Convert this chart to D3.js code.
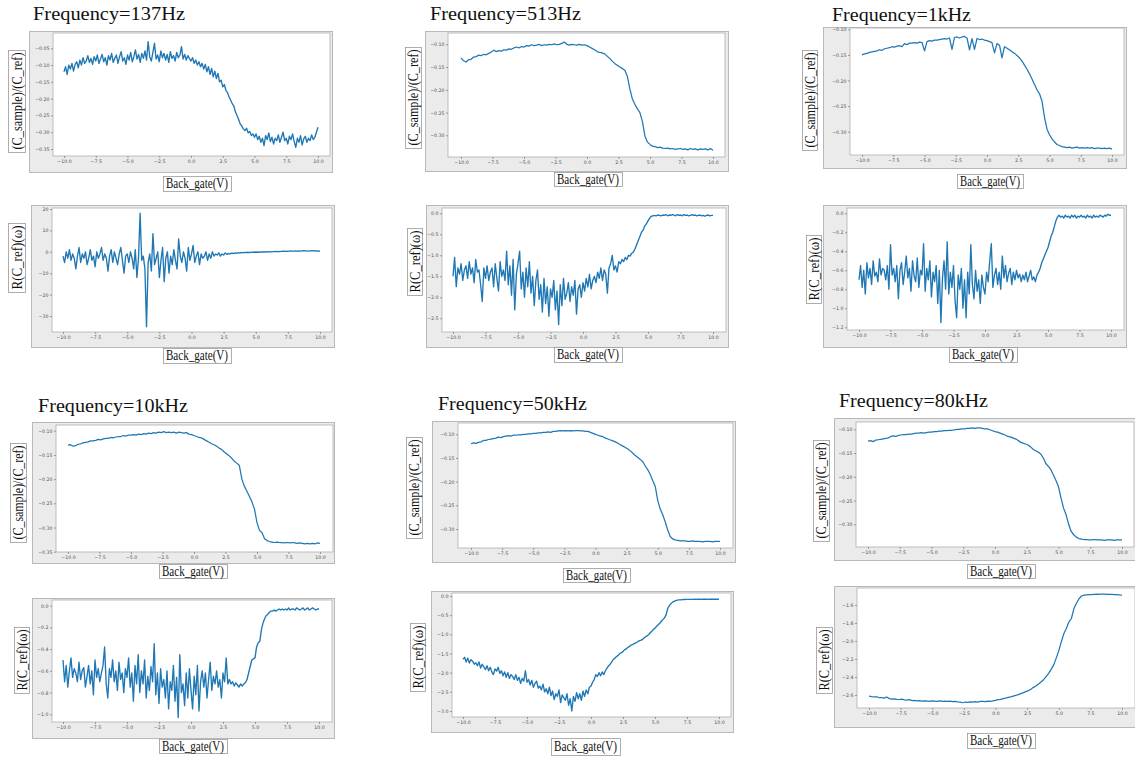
<!DOCTYPE html>
<html><head><meta charset="utf-8">
<script src="https://cdn.jsdelivr.net/npm/d3@7"></script>
<style>html,body{margin:0;padding:0;background:#fff;} svg{display:block;}</style>
</head><body>
<svg id="chart" width="1135" height="757"></svg>
<script>
// ---------------- DATA ----------------
const titles = ["Frequency=137Hz","Frequency=513Hz","Frequency=1kHz","Frequency=10kHz","Frequency=50kHz","Frequency=80kHz"];
const xLabel = "Back_gate(V)";
const yLabelC = "(C_sample)/(C_ref)";
const yLabelR = "R(C_ref)(\u03c9)";
const gateRange = [-10, 10];
const xTicks = [-10,-7.5,-5,-2.5,0,2.5,5,7.5,10];

const yTicksC137 = [-0.05,-0.10,-0.15,-0.20,-0.25,-0.30,-0.35];
const yTicksC10k = [-0.10,-0.15,-0.20,-0.25,-0.30,-0.35];
const yTicksC = [-0.10,-0.15,-0.20,-0.25,-0.30];
const yTicksR137 = [20,10,0,-10,-20,-30];
const yTicksR513 = [0,-0.5,-1.0,-1.5,-2.0,-2.5];
const yTicksR1k = [0,-0.2,-0.4,-0.6,-0.8,-1.0,-1.2];
const yTicksR10k = [0,-0.2,-0.4,-0.6,-0.8,-1.0];
const yTicksR50k = [0,-0.5,-1.0,-1.5,-2.0,-2.5,-3.0];
const yTicksR80k = [-1.6,-1.8,-2.0,-2.2,-2.4,-2.6];

const c137 = [-0.120,-0.105,-0.128,-0.100,-0.112,-0.095,-0.118,-0.098,
-0.090,-0.108,-0.085,-0.100,-0.078,-0.095,-0.088,-0.072,
-0.092,-0.080,-0.098,-0.075,-0.088,-0.070,-0.095,-0.082,
-0.068,-0.090,-0.078,-0.100,-0.072,-0.085,-0.065,-0.092,
-0.080,-0.070,-0.095,-0.075,-0.060,-0.088,-0.078,-0.098,
-0.070,-0.085,-0.062,-0.090,-0.075,-0.055,-0.082,-0.068,
-0.092,-0.065,-0.080,-0.058,-0.085,-0.030,-0.075,-0.088,
-0.062,-0.035,-0.082,-0.070,-0.090,-0.058,-0.078,-0.065,
-0.085,-0.068,-0.092,-0.060,-0.080,-0.072,-0.088,-0.062,
-0.078,-0.070,-0.045,-0.082,-0.068,-0.085,-0.072,-0.080,
-0.088,-0.078,-0.095,-0.085,-0.100,-0.090,-0.105,-0.095,
-0.112,-0.098,-0.120,-0.105,-0.128,-0.110,-0.135,-0.118,
-0.140,-0.125,-0.150,-0.145,-0.165,-0.158,-0.175,-0.182,
-0.195,-0.205,-0.215,-0.222,-0.240,-0.250,-0.262,-0.275,
-0.282,-0.290,-0.295,-0.288,-0.302,-0.298,-0.310,-0.305,
-0.315,-0.305,-0.322,-0.312,-0.330,-0.318,-0.340,-0.310,
-0.322,-0.302,-0.328,-0.315,-0.335,-0.318,-0.325,-0.308,
-0.330,-0.315,-0.300,-0.325,-0.318,-0.335,-0.312,-0.322,
-0.305,-0.328,-0.345,-0.318,-0.330,-0.310,-0.338,-0.320,
-0.312,-0.330,-0.318,-0.325,-0.308,-0.322,-0.315,-0.300,
-0.285];

const r137 = [-2,-5,0,-3,1,-4,-1,-3,
-8,-2,2,-5,-1,-3,0,-6,
-3,1,-4,-2,-7,0,-3,-1,
2,-4,-1,-3,-9,-2,1,-5,
0,-3,-6,-1,2,-4,-10,-2,
-1,-5,0,-3,-8,1,-12,-3,
18,-4,-2,-8,-35,-5,-1,-9,
8.5,-6,-3,0,-12,-4,2,-14,
-3,0,-10,-2,-6,1,-4,-8,
6,-2,-5,0,-3,-9,2,-4,
-1,3,-5,-2,0,-6,-1,-3,
-2,0,-4,-1,-3,0,-2,-1,
-1.5,-0.5,-2,-1,-1.5,-0.5,-1.2,-0.8,
-1,-0.6,-0.8,-0.5,-0.7,-0.4,-0.6,-0.3,
-0.5,-0.3,-0.4,-0.2,-0.4,-0.2,-0.3,-0.1,
-0.2,-0.1,-0.2,0,-0.1,0,-0.1,0.1,
0,0.1,0,0.1,0.2,0.1,0.2,0.1,
0.2,0.3,0.2,0.3,0.2,0.3,0.4,0.3,
0.3,0.4,0.3,0.4,0.3,0.4,0.5,0.4,
0.4,0.3,0.4,0.5,0.4,0.5,0.3,0.4,
0.3];

const c513 = [-0.130,-0.136,-0.139,-0.134,-0.133,-0.128,-0.127,-0.124,-0.125,-0.122,
-0.123,-0.120,-0.117,-0.113,-0.116,-0.114,-0.115,-0.112,-0.113,-0.110,
-0.111,-0.108,-0.106,-0.108,-0.105,-0.106,-0.103,-0.104,-0.101,-0.103,
-0.102,-0.100,-0.103,-0.101,-0.102,-0.100,-0.101,-0.099,-0.101,-0.100,
-0.098,-0.095,-0.100,-0.102,-0.100,-0.101,-0.102,-0.100,-0.102,-0.101,
-0.103,-0.106,-0.109,-0.112,-0.116,-0.118,-0.119,-0.121,-0.126,-0.131,
-0.137,-0.142,-0.146,-0.150,-0.153,-0.157,-0.170,-0.198,-0.220,-0.232,
-0.242,-0.250,-0.270,-0.302,-0.315,-0.320,-0.324,-0.325,-0.327,-0.326,
-0.328,-0.329,-0.328,-0.330,-0.329,-0.331,-0.330,-0.329,-0.331,-0.330,
-0.332,-0.329,-0.331,-0.330,-0.332,-0.330,-0.331,-0.330,-0.332,-0.329,
-0.333];

const r513 = [-1.50,-1.05,-1.75,-1.30,-1.45,-1.20,-1.60,-1.35,
-1.25,-1.55,-1.15,-1.45,-1.30,-1.65,-1.10,-1.40,
-1.35,-1.70,-2.10,-1.30,-1.55,-1.25,-1.60,-1.40,
-1.30,-1.75,-1.20,-1.55,-1.85,-1.15,-1.50,-1.35,
-1.60,-0.90,-1.70,-1.25,-1.95,-1.10,-2.30,-1.45,
-1.20,-0.90,-1.80,-1.40,-2.00,-1.30,-1.75,-1.15,
-1.90,-1.50,-2.20,-1.60,-1.35,-2.05,-1.70,-2.35,
-1.55,-2.15,-1.75,-2.45,-1.80,-2.00,-1.60,-2.30,
-1.85,-2.65,-1.70,-2.20,-1.55,-2.05,-1.90,-1.65,
-2.10,-1.75,-1.95,-1.60,-2.40,-1.80,-1.70,-2.00,
-1.65,-1.85,-1.55,-1.75,-1.45,-1.80,-1.60,-1.50,
-1.65,-1.40,-1.55,-1.30,-1.60,-1.35,-1.45,-1.90,
-1.30,-1.20,-1.00,-1.35,-1.25,-1.40,-1.15,-1.20,
-1.10,-1.15,-1.05,-1.10,-1.00,-1.02,-0.95,-0.92,
-0.85,-0.75,-0.65,-0.55,-0.45,-0.40,-0.30,-0.25,
-0.18,-0.12,-0.07,-0.06,-0.05,-0.06,-0.04,-0.05,
-0.06,-0.04,-0.05,-0.03,-0.06,-0.04,-0.05,-0.03,
-0.04,-0.06,-0.03,-0.05,-0.04,-0.06,-0.03,-0.05,
-0.04,-0.06,-0.05,-0.03,-0.05,-0.04,-0.06,-0.05,
-0.04,-0.06,-0.05,-0.07,-0.05,-0.04,-0.06,-0.05,
-0.05];

const c1k = [-0.150,-0.148,-0.147,-0.145,-0.144,-0.143,-0.142,-0.140,-0.141,-0.138,
-0.137,-0.136,-0.134,-0.135,-0.133,-0.132,-0.134,-0.128,-0.130,-0.127,
-0.127,-0.126,-0.127,-0.125,-0.126,-0.142,-0.124,-0.122,-0.123,-0.121,
-0.121,-0.120,-0.119,-0.118,-0.119,-0.117,-0.139,-0.116,-0.115,-0.117,
-0.115,-0.114,-0.117,-0.140,-0.118,-0.139,-0.118,-0.120,-0.119,-0.121,
-0.122,-0.124,-0.126,-0.146,-0.128,-0.131,-0.156,-0.134,-0.137,-0.140,
-0.144,-0.147,-0.151,-0.156,-0.162,-0.170,-0.178,-0.187,-0.197,-0.208,
-0.218,-0.226,-0.240,-0.272,-0.295,-0.306,-0.314,-0.320,-0.325,-0.327,
-0.329,-0.330,-0.331,-0.330,-0.332,-0.331,-0.330,-0.332,-0.331,-0.332,
-0.331,-0.332,-0.331,-0.333,-0.332,-0.332,-0.333,-0.332,-0.333,-0.332,
-0.334];

const r1k = [-0.70,-0.55,-0.78,-0.60,-0.85,-0.52,-0.68,-0.58,
-0.75,-0.50,-0.66,-0.62,-0.72,-0.48,-0.65,-0.58,
-0.60,-0.70,-0.55,-0.80,-0.33,-0.65,-0.58,-0.72,
-0.55,-0.90,-0.60,-0.52,-0.75,-0.62,-0.45,-0.68,
-0.58,-0.82,-0.50,-0.66,-0.72,-0.47,-0.78,-0.60,
-0.65,-0.32,-0.82,-0.58,-0.70,-0.50,-0.88,-0.62,
-0.72,-0.55,-0.95,-0.60,-1.15,-0.68,-0.50,-0.80,
-0.30,-0.85,-0.62,-0.78,-0.55,-0.92,-1.10,-0.65,
-0.80,-0.58,-1.00,-0.70,-1.10,-0.62,-0.85,-0.33,
-0.75,-0.90,-0.60,-0.82,-0.70,-0.95,-0.65,-0.78,
-0.85,-0.62,-0.72,-0.50,-0.32,-0.78,-0.65,-0.58,
-0.75,-0.62,-0.80,-0.45,-0.68,-0.55,-0.72,-0.63,
-0.58,-0.75,-0.62,-0.70,-0.60,-0.68,-0.64,-0.72,
-0.65,-0.70,-0.62,-0.72,-0.66,-0.60,-0.70,-0.67,
-0.72,-0.65,-0.62,-0.58,-0.52,-0.48,-0.44,-0.40,
-0.36,-0.30,-0.24,-0.20,-0.14,-0.08,-0.04,-0.02,
-0.04,-0.03,-0.05,-0.02,-0.04,-0.03,-0.05,-0.02,
-0.04,-0.02,-0.05,-0.03,-0.04,-0.02,-0.04,-0.03,
-0.05,-0.02,-0.04,-0.03,-0.05,-0.02,-0.04,-0.03,
-0.04,-0.02,-0.03,-0.04,-0.02,-0.03,-0.01,-0.02,
-0.02];

const c10k = [-0.130,-0.129,-0.132,-0.131,-0.128,-0.127,-0.125,-0.124,-0.123,-0.121,
-0.121,-0.120,-0.118,-0.119,-0.117,-0.116,-0.116,-0.114,-0.115,-0.113,
-0.112,-0.112,-0.110,-0.111,-0.109,-0.109,-0.108,-0.109,-0.107,-0.108,
-0.106,-0.107,-0.105,-0.106,-0.104,-0.105,-0.103,-0.104,-0.102,-0.104,
-0.103,-0.104,-0.103,-0.105,-0.103,-0.104,-0.105,-0.104,-0.107,-0.108,
-0.110,-0.112,-0.114,-0.115,-0.118,-0.121,-0.124,-0.127,-0.129,-0.132,
-0.136,-0.139,-0.144,-0.148,-0.152,-0.157,-0.163,-0.167,-0.172,-0.200,
-0.215,-0.225,-0.236,-0.247,-0.262,-0.290,-0.306,-0.311,-0.323,-0.327,
-0.329,-0.330,-0.331,-0.330,-0.331,-0.331,-0.332,-0.331,-0.332,-0.331,
-0.332,-0.333,-0.332,-0.333,-0.334,-0.333,-0.334,-0.333,-0.334,-0.332,
-0.333];

const r10k = [-0.50,-0.70,-0.55,-0.75,-0.60,-0.48,-0.66,-0.58,
-0.62,-0.70,-0.52,-0.68,-0.60,-0.57,-0.75,-0.65,
-0.55,-0.72,-0.60,-0.82,-0.50,-0.66,-0.58,-0.70,
-0.62,-0.55,-0.38,-0.72,-0.85,-0.58,-0.66,-0.50,
-0.70,-0.60,-0.78,-0.52,-0.68,-0.62,-0.80,-0.58,
-0.66,-0.48,-0.75,-0.62,-0.88,-0.55,-0.72,-0.45,
-0.80,-0.60,-0.72,-0.50,-0.85,-0.65,-0.78,-0.56,
-0.70,-0.35,-0.82,-0.62,-0.90,-0.58,-0.75,-0.68,
-0.85,-0.60,-0.95,-0.70,-0.78,-0.55,-0.88,-0.66,
-1.03,-0.45,-0.80,-0.72,-0.92,-0.62,-0.85,-0.58,
-0.78,-0.95,-0.65,-0.82,-0.55,-0.97,-0.70,-0.60,
-0.75,-0.62,-0.85,-0.68,-0.52,-0.78,-0.65,-0.72,
-0.60,-0.75,-0.68,-0.85,-0.62,-0.70,-0.48,-0.72,
-0.68,-0.72,-0.70,-0.74,-0.71,-0.73,-0.75,-0.72,
-0.74,-0.72,-0.71,-0.68,-0.62,-0.56,-0.50,-0.49,
-0.48,-0.38,-0.34,-0.33,-0.22,-0.16,-0.12,-0.09,
-0.08,-0.06,-0.05,-0.05,-0.04,-0.05,-0.04,-0.03,
-0.04,-0.03,-0.04,-0.03,-0.04,-0.02,-0.04,-0.03,
-0.03,-0.04,-0.02,-0.03,-0.04,-0.03,-0.02,-0.04,
-0.03,-0.02,-0.04,-0.03,-0.02,-0.03,-0.04,-0.03,
-0.03];

const c50k = [-0.120,-0.118,-0.119,-0.117,-0.116,-0.113,-0.113,-0.111,-0.110,-0.109,
-0.108,-0.106,-0.107,-0.105,-0.104,-0.103,-0.104,-0.102,-0.102,-0.101,
-0.101,-0.100,-0.100,-0.099,-0.099,-0.098,-0.098,-0.097,-0.097,-0.096,
-0.096,-0.095,-0.096,-0.094,-0.094,-0.093,-0.092,-0.093,-0.092,-0.093,
-0.092,-0.093,-0.092,-0.092,-0.093,-0.093,-0.094,-0.094,-0.096,-0.098,
-0.100,-0.102,-0.104,-0.105,-0.108,-0.110,-0.112,-0.114,-0.116,-0.119,
-0.122,-0.125,-0.128,-0.131,-0.135,-0.140,-0.145,-0.149,-0.153,-0.158,
-0.167,-0.175,-0.185,-0.198,-0.210,-0.240,-0.258,-0.270,-0.285,-0.302,
-0.316,-0.321,-0.323,-0.324,-0.325,-0.325,-0.325,-0.326,-0.326,-0.325,
-0.326,-0.326,-0.326,-0.327,-0.326,-0.326,-0.326,-0.327,-0.326,-0.326,
-0.326];

const r50k = [-1.65,-1.60,-1.72,-1.62,-1.75,-1.66,-1.70,-1.78,
-1.74,-1.82,-1.72,-1.88,-1.78,-1.85,-1.92,-1.82,
-1.95,-1.86,-1.98,-2.05,-1.90,-1.96,-1.86,-2.02,
-1.95,-2.08,-1.98,-2.12,-2.00,-2.15,-2.05,-2.10,
-2.18,-2.05,-2.20,-2.12,-2.28,-2.15,-2.22,-1.95,
-2.25,-2.18,-2.32,-2.20,-2.38,-2.28,-2.22,-2.40,
-2.35,-2.45,-2.30,-2.50,-2.42,-2.55,-2.38,-2.60,
-2.48,-2.70,-2.55,-2.62,-2.45,-2.78,-2.58,-2.66,
-2.72,-2.55,-2.85,-2.68,-3.00,-2.62,-2.75,-2.52,
-2.68,-2.55,-2.72,-2.48,-2.62,-2.45,-2.55,-2.38,
-2.35,-2.25,-2.18,-2.05,-2.10,-2.00,-2.08,-1.98,
-2.05,-1.95,-1.88,-1.82,-1.78,-1.72,-1.65,-1.62,
-1.58,-1.55,-1.50,-1.48,-1.45,-1.40,-1.38,-1.34,
-1.32,-1.28,-1.27,-1.24,-1.22,-1.20,-1.17,-1.16,
-1.14,-1.10,-1.07,-1.04,-1.01,-0.96,-0.92,-0.87,
-0.84,-0.79,-0.75,-0.71,-0.66,-0.61,-0.57,-0.48,
-0.32,-0.25,-0.20,-0.16,-0.14,-0.12,-0.11,-0.10,
-0.10,-0.095,-0.09,-0.09,-0.088,-0.088,-0.087,-0.087,
-0.087,-0.086,-0.087,-0.086,-0.086,-0.087,-0.086,-0.086,
-0.086,-0.087,-0.086,-0.086,-0.086,-0.085,-0.086,-0.086,
-0.086];

const c80k = [-0.125,-0.124,-0.126,-0.123,-0.122,-0.121,-0.120,-0.119,-0.118,-0.115,
-0.114,-0.115,-0.113,-0.112,-0.111,-0.111,-0.110,-0.110,-0.109,-0.108,
-0.108,-0.107,-0.108,-0.107,-0.106,-0.106,-0.105,-0.105,-0.104,-0.104,
-0.103,-0.103,-0.102,-0.102,-0.101,-0.100,-0.100,-0.099,-0.099,-0.098,
-0.098,-0.097,-0.098,-0.097,-0.097,-0.098,-0.099,-0.099,-0.101,-0.103,
-0.105,-0.106,-0.108,-0.110,-0.112,-0.115,-0.116,-0.118,-0.120,-0.123,
-0.127,-0.129,-0.131,-0.133,-0.137,-0.142,-0.145,-0.148,-0.152,-0.160,
-0.172,-0.178,-0.185,-0.196,-0.208,-0.221,-0.245,-0.266,-0.280,-0.300,
-0.315,-0.322,-0.327,-0.330,-0.331,-0.332,-0.332,-0.333,-0.333,-0.332,
-0.333,-0.333,-0.333,-0.334,-0.333,-0.333,-0.333,-0.334,-0.333,-0.333,
-0.333];

const r80k = [-2.612,-2.618,-2.622,-2.620,-2.628,-2.630,-2.634,-2.622,-2.640,-2.645,
-2.643,-2.648,-2.650,-2.646,-2.655,-2.656,-2.652,-2.662,-2.660,-2.664,
-2.662,-2.668,-2.664,-2.667,-2.670,-2.666,-2.668,-2.672,-2.666,-2.670,
-2.667,-2.672,-2.668,-2.674,-2.670,-2.676,-2.680,-2.686,-2.678,-2.682,
-2.676,-2.680,-2.674,-2.678,-2.672,-2.670,-2.674,-2.668,-2.670,-2.664,
-2.660,-2.652,-2.648,-2.640,-2.634,-2.626,-2.620,-2.612,-2.604,-2.596,
-2.585,-2.574,-2.562,-2.552,-2.536,-2.515,-2.500,-2.478,-2.455,-2.430,
-2.395,-2.360,-2.315,-2.265,-2.190,-2.110,-2.010,-1.920,-1.860,-1.790,
-1.750,-1.640,-1.580,-1.530,-1.500,-1.490,-1.488,-1.486,-1.484,-1.482,
-1.480,-1.481,-1.479,-1.480,-1.482,-1.481,-1.483,-1.485,-1.486,-1.488,
-1.489];

// ---------------- LAYOUT (pixel geometry) ----------------
const layout = [
 {series:c137, ticks:yTicksC137, fmt:".2f", ylab:yLabelC, title:0, tpos:[33,20,152], noisy:true,
  frame:[29,31,332,172], plot:[53,33,330,156], xr:[64,318], yr:[-0.05,48.3,-0.35,149],
  ybox:[8,50,25,152], xbox:[163,176,231,191]},
 {series:r137, ticks:yTicksR137, fmt:".0f", ylab:yLabelR, noisy:true,
  frame:[31,205,334,347], plot:[52,208,332,332], xr:[63,320], yr:[20,209,-30,316],
  ybox:[8,223,25,292], xbox:[163,348,231,363]},
 {series:c513, ticks:yTicksC, fmt:".2f", ylab:yLabelC, title:1, tpos:[430,20,151],
  frame:[425,31,728,171], plot:[448,33,725,157], xr:[461,713], yr:[-0.10,44.3,-0.30,135.3],
  ybox:[405,47,421,148], xbox:[554,172,622,186]},
 {series:r513, ticks:yTicksR513, fmt:".1f", ylab:yLabelR, noisy:true,
  frame:[426,205,728,347], plot:[442,208,726,332], xr:[453,713], yr:[0,213.3,-2.5,318.3],
  ybox:[407,228,422,295], xbox:[554,347,622,362]},
 {series:c1k, ticks:yTicksC, fmt:".2f", ylab:yLabelC, title:2, tpos:[832,20.5,139],
  frame:[823,27,1126,168], plot:[850,28,1124,155], xr:[862,1112], yr:[-0.10,29.3,-0.30,131.7],
  ybox:[802,50,817,150], xbox:[957,174,1023,188]},
 {series:r1k, ticks:yTicksR1k, fmt:".1f", ylab:yLabelR, noisy:true,
  frame:[823,205,1126,347], plot:[847,208,1124,330], xr:[859,1111], yr:[0,213.3,-1.2,327.3],
  ybox:[806,235,821,303], xbox:[949,347,1017,362]},
 {series:c10k, ticks:yTicksC10k, fmt:".2f", ylab:yLabelC, title:3, tpos:[38,411.5,150],
  frame:[32,422,334,563], plot:[56,425,333,552], xr:[68,320], yr:[-0.10,430.7,-0.35,551.7],
  ybox:[10,443,26,542], xbox:[159,564,227,578]},
 {series:r10k, ticks:yTicksR10k, fmt:".1f", ylab:yLabelR, noisy:true,
  frame:[32,598,334,738], plot:[52,600,332,722], xr:[63,319], yr:[0,605.7,-1.0,714.3],
  ybox:[14,627,29,693], xbox:[159,739,227,753]},
 {series:c50k, ticks:yTicksC, fmt:".2f", ylab:yLabelC, title:4, tpos:[438,410,149],
  frame:[432,421,735,562], plot:[458,423,733,548], xr:[471,720], yr:[-0.10,434.3,-0.30,529],
  ybox:[406,437,422,538], xbox:[563,568,630,582]},
 {series:r50k, ticks:yTicksR50k, fmt:".1f", ylab:yLabelR, noisy:true,
  frame:[431,591,733,732], plot:[452,593,731,717], xr:[463,719], yr:[0,596,-3.0,711],
  ybox:[410,623,425,691], xbox:[551,738,620,755]},
 {series:c80k, ticks:yTicksC, fmt:".2f", ylab:yLabelC, title:5, tpos:[839,407,149],
  frame:[834,418,1135,560], plot:[856,422,1134,547], xr:[868,1122], yr:[-0.10,429.3,-0.30,524.3],
  ybox:[813,440,829,541], xbox:[967,564,1035,578]},
 {series:r80k, ticks:yTicksR80k, fmt:".1f", ylab:yLabelR,
  frame:[834,586,1135,727], plot:[857,588,1135,708], xr:[869,1122], yr:[-1.6,605,-2.6,695],
  ybox:[816,627,832,693], xbox:[967,733,1035,748]}
];

// ---------------- DRAW ----------------
const svg = d3.select("#chart");
const serif = "'Liberation Serif','Times New Roman',serif";
const tickFont = "'DejaVu Sans',sans-serif";

layout.forEach((p, k) => {
  const g = svg.append("g");
  const [fx0,fy0,fx1,fy1] = p.frame;
  const [px0,py0,px1,py1] = p.plot;
  g.append("rect").attr("x",fx0+0.5).attr("y",fy0+0.5).attr("width",fx1-fx0).attr("height",fy1-fy0)
    .attr("fill","#ebebeb").attr("stroke","#b8b8b8").attr("stroke-width",1);
  g.append("rect").attr("x",px0).attr("y",py0).attr("width",px1-px0).attr("height",py1-py0)
    .attr("fill","#fff").attr("stroke","#b0b0b0").attr("stroke-width",0.8);

  const x = d3.scaleLinear().domain(gateRange).range(p.xr);
  const y = d3.scaleLinear().domain([p.yr[0], p.yr[2]]).range([p.yr[1], p.yr[3]]);

  const ya = g.append("g").attr("transform",`translate(${px0},0)`)
    .call(d3.axisLeft(y).tickValues(p.ticks).tickFormat(d3.format(p.fmt)).tickSize(2).tickPadding(1.5));
  const xa = g.append("g").attr("transform",`translate(0,${py1})`)
    .call(d3.axisBottom(x).tickValues(xTicks).tickFormat(d3.format(".1f")).tickSize(2).tickPadding(1.5));
  [ya,xa].forEach(a => {
    a.select(".domain").remove();
    a.selectAll("line").attr("stroke","#666").attr("stroke-width",0.6);
    a.selectAll("text").attr("font-family",tickFont).attr("font-size",4.7).attr("fill","#555");
  });

  const clipId = "clip"+k;
  g.append("clipPath").attr("id",clipId).append("rect")
    .attr("x",px0).attr("y",py0).attr("width",px1-px0).attr("height",py1-py0);
  const n = p.series.length;
  const line = d3.line().x((d,i) => x(gateRange[0] + (gateRange[1]-gateRange[0])*i/(n-1))).y(d => y(d));
  g.append("path").datum(p.series).attr("d",line).attr("clip-path",`url(#${clipId})`)
    .attr("fill","none").attr("stroke","#1f77b4").attr("stroke-width",p.noisy ? 1.35 : 1.25)
    .attr("stroke-linejoin","round");

  // y label box
  const [bx0,by0,bx1,by1] = p.ybox;
  g.append("rect").attr("x",bx0+0.5).attr("y",by0+0.5).attr("width",bx1-bx0).attr("height",by1-by0)
    .attr("fill","#fff").attr("stroke","#999").attr("stroke-width",0.8);
  g.append("text").attr("transform",`translate(${(bx0+bx1)/2+5},${(by0+by1)/2}) rotate(-90)`)
    .attr("text-anchor","middle").attr("font-family",serif).attr("font-size",14).attr("fill","#111")
    .attr("textLength",(by1-by0)-5).attr("lengthAdjust","spacingAndGlyphs").text(p.ylab);

  // x label box
  const [cx0,cy0,cx1,cy1] = p.xbox;
  g.append("rect").attr("x",cx0+0.5).attr("y",cy0+0.5).attr("width",cx1-cx0).attr("height",cy1-cy0)
    .attr("fill","#fff").attr("stroke","#999").attr("stroke-width",0.8);
  g.append("text").attr("x",(cx0+cx1)/2).attr("y",(cy0+cy1)/2+4.5)
    .attr("text-anchor","middle").attr("font-family",serif).attr("font-size",14).attr("fill","#111")
    .attr("textLength",(cx1-cx0)-6).attr("lengthAdjust","spacingAndGlyphs").text(xLabel);

  if (p.title !== undefined) {
    g.append("text").attr("x",p.tpos[0]).attr("y",p.tpos[1])
      .attr("font-family",serif).attr("font-size",19.5).attr("fill","#111")
      .attr("textLength",p.tpos[2]).attr("lengthAdjust","spacingAndGlyphs").text(titles[p.title]);
  }
});
</script>
</body></html>
